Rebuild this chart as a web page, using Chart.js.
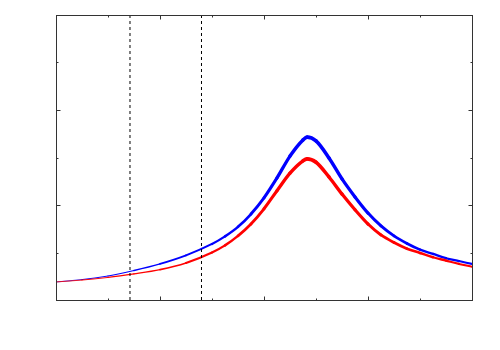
<!DOCTYPE html>
<html>
<head>
<meta charset="utf-8">
<script src="https://cdn.jsdelivr.net/npm/chart.js@4/dist/chart.umd.min.js"></script>
<style>
  html, body { margin: 0; padding: 0; background: #fff; }
  #wrap { width: 500px; height: 350px; }
</style>
</head>
<body>
<div id="wrap"><canvas id="resChart" width="500" height="350"></canvas></div>
<script>
// x positions shared by both curves
const xs = [0, 0.5, 1, 1.5, 2, 2.5, 3, 3.25, 3.5, 3.75, 4, 4.25, 4.5, 4.75, 4.83,
            5, 5.25, 5.5, 5.75, 6, 6.25, 6.5, 6.75, 7, 7.25, 7.5, 7.75, 8];
const blueVals = [0.38, 0.43, 0.505, 0.62, 0.76, 0.94, 1.18, 1.34, 1.54, 1.81, 2.15, 2.57, 3.03, 3.37, 3.43,
                  3.35, 2.99, 2.55, 2.17, 1.83, 1.56, 1.35, 1.19, 1.06, 0.97, 0.88, 0.82, 0.76];
const redVals  = [0.38, 0.42, 0.475, 0.55, 0.64, 0.78, 1.0, 1.15, 1.35, 1.6, 1.92, 2.3, 2.67, 2.93, 2.97,
                  2.9, 2.59, 2.23, 1.9, 1.6, 1.37, 1.21, 1.08, 0.99, 0.9, 0.83, 0.76, 0.7];
// dashed vertical markers
const markers = [1.423, 2.798];
const xTicks = [0, 1, 2, 3, 4, 5, 6, 7, 8];
const yTicks = [0, 1, 2, 3, 4, 5, 6];

const toPts = vals => xs.map((x, i) => ({ x: x, y: vals[i] }));

// line gets thicker towards the peak, then thins a bit
function widthAt(x) {
  if (x <= 4.85) return 0.8 + 2.9 * Math.pow(x / 4.85, 1.5);
  return 3.7 - 1.7 * ((x - 4.85) / 3.15);
}
const segWidth = ctx => widthAt((ctx.p0.parsed.x + ctx.p1.parsed.x) / 2);

// box + inward tick marks
const frame = {
  id: 'frame',
  afterDraw(chart) {
    const { ctx, chartArea: a, scales } = chart;
    const L = Math.round(a.left) + 0.5, R = Math.round(a.right) + 0.5;
    const T = Math.round(a.top) + 0.5, B = Math.round(a.bottom) + 0.5;
    ctx.save();
    ctx.strokeStyle = '#333';
    ctx.lineWidth = 1;
    ctx.beginPath();
    xTicks.forEach(v => {
      const p = Math.round(scales.x.getPixelForValue(v)) + 0.5;
      const len = v % 2 === 0 ? 4 : 2;
      ctx.moveTo(p, B); ctx.lineTo(p, B - len);
      ctx.moveTo(p, T); ctx.lineTo(p, T + len);
    });
    yTicks.forEach(v => {
      const p = Math.round(scales.y.getPixelForValue(v)) + 0.5;
      const len = v % 2 === 0 ? 4 : 2;
      ctx.moveTo(L, p); ctx.lineTo(L + len, p);
      ctx.moveTo(R, p); ctx.lineTo(R - len, p);
    });
    ctx.stroke();
    ctx.strokeRect(L, T, R - L, B - T);
    ctx.restore();
  }
};

const markerSets = markers.map(m => ({
  data: [{ x: m, y: 0 }, { x: m, y: 6 }],
  borderColor: '#000',
  borderWidth: 1,
  borderDash: [3, 3],
  pointRadius: 0
}));

new Chart(document.getElementById('resChart'), {
  type: 'line',
  data: {
    datasets: [
      ...markerSets,
      {
        label: 'red',
        data: toPts(redVals),
        borderColor: '#ff0000',
        pointRadius: 0,
        cubicInterpolationMode: 'monotone',
        borderCapStyle: 'round',
        segment: { borderWidth: segWidth }
      },
      {
        label: 'blue',
        data: toPts(blueVals),
        borderColor: '#0000ff',
        pointRadius: 0,
        cubicInterpolationMode: 'monotone',
        borderCapStyle: 'round',
        segment: { borderWidth: segWidth }
      }
    ]
  },
  options: {
    responsive: false,
    animation: false,
    layout: { padding: { left: 56, right: 28, top: 15, bottom: 50 } },
    plugins: { legend: { display: false }, tooltip: { enabled: false } },
    scales: {
      x: { type: 'linear', min: 0, max: 8, display: false },
      y: { type: 'linear', min: 0, max: 6, display: false }
    }
  },
  plugins: [frame]
});
</script>
</body>
</html>
